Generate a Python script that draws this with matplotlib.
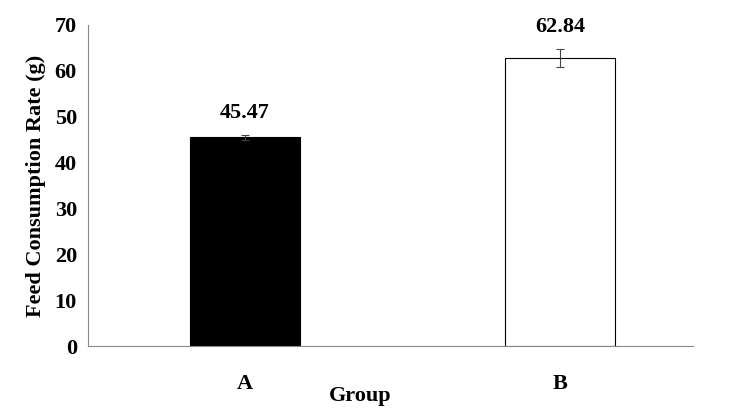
import matplotlib
matplotlib.use("Agg")
import matplotlib.pyplot as plt

categories = ["A", "B"]
values = [45.47, 62.84]
errors = [0.6, 2.0]
colors = ["black", "white"]

plt.rcParams['font.family'] = ['Liberation Serif', 'DejaVu Serif']
fig = plt.figure(figsize=(7.3, 4.2), dpi=100)
ax = fig.add_axes([88/730, 1-346/420, (693-88)/730, (346-25)/420])
x = list(range(len(categories)))
ax.bar(x, values, width=0.35, color=colors, edgecolor="black", linewidth=0.8,
       yerr=errors, error_kw=dict(ecolor="#444444", elinewidth=0.8, capsize=3, capthick=0.8))
for xi, v, e in zip(x, values, errors):
    ax.text(xi, v + e + 2.5, f"{v:.2f}", ha="center", va="bottom", fontsize=16, fontweight="bold")
ax.set_xlim(-0.498, 1.422)
ax.set_ylim(0, 70)
ax.set_yticks(range(0, 71, 10))
ax.set_xticks(x)
ax.set_xticklabels(categories, fontsize=16, fontweight="bold")
for lab in ax.get_yticklabels():
    lab.set_fontsize(16); lab.set_fontweight("bold")
ax.tick_params(axis="x", length=0, pad=20)
ax.tick_params(axis="y", length=0, pad=8)
ax.spines["top"].set_visible(False)
ax.spines["right"].set_visible(False)
ax.spines["left"].set_color("#888888")
ax.spines["bottom"].set_color("#888888")
ax.set_ylabel("Feed Consumption Rate (g)", fontsize=16, fontweight="bold", labelpad=6)
fig.text(360/730, 1-396/420, "Group", ha="center", va="center", fontsize=16, fontweight="bold")
fig.savefig("out.png", dpi=100)
